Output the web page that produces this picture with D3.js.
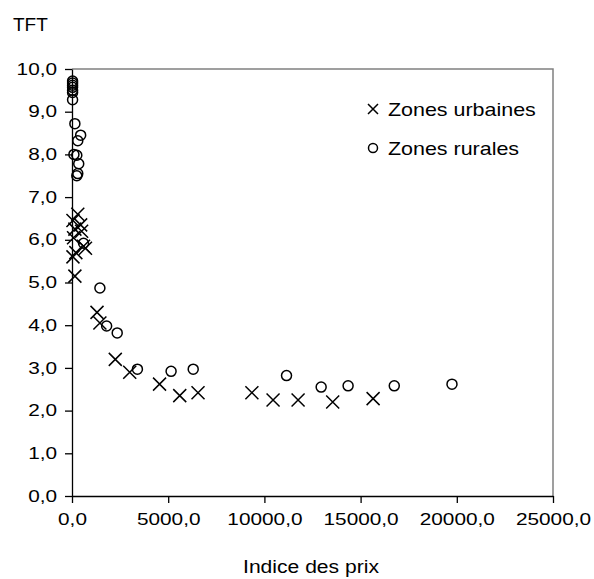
<!DOCTYPE html>
<html>
<head>
<meta charset="utf-8">
<script src="https://cdn.jsdelivr.net/npm/d3@7/dist/d3.min.js"></script>
<style>
  body { margin: 0; background: #fff; }
  svg text { font-family: "Liberation Sans", Arial, sans-serif; fill: #000; }
</style>
</head>
<body>
<div id="chart"></div>
<script>
// Zones urbaines: [indice des prix, TFT]
const urbaines = [
  [50, 6.45], [300, 6.6], [150, 6.25], [450, 6.35], [500, 6.2], [80, 6.05],
  [600, 5.85], [700, 5.8], [50, 5.6], [200, 5.7], [150, 5.15],
  [1300, 4.3], [1450, 4.05], [2250, 3.2], [3000, 2.9], [4550, 2.62],
  [5600, 2.35], [6550, 2.42], [9350, 2.42], [10450, 2.25], [11750, 2.25],
  [13550, 2.2], [15650, 2.28]
];
// Zones rurales
const rurales = [
  [30, 9.72], [30, 9.67], [30, 9.62], [30, 9.57], [30, 9.5], [30, 9.45],
  [30, 9.28], [150, 8.72], [450, 8.45], [300, 8.32], [100, 8.0], [250, 7.98],
  [350, 7.78], [300, 7.55], [250, 7.5], [600, 5.92], [1450, 4.87],
  [1800, 3.98], [2350, 3.82], [3400, 2.97], [5150, 2.92], [6300, 2.97],
  [11150, 2.82], [12950, 2.55], [14350, 2.58], [16750, 2.58], [19750, 2.62]
];
const xTicks = [0, 5000, 10000, 15000, 20000, 25000];
const yTicks = [0, 1, 2, 3, 4, 5, 6, 7, 8, 9, 10];

const width = 594, height = 579;
const mLeft = 72, mRight = 553, mTop = 69, mBottom = 496;
// the original picture is stretched horizontally
const stretch = 1.3;

const svg = d3.select('#chart').append('svg')
  .attr('width', width)
  .attr('height', height);

const x = d3.scaleLinear().domain([0, 25000]).range([mLeft, mRight]);
const y = d3.scaleLinear().domain([0, 10]).range([mBottom, mTop]);
const fmt = v => d3.format('.1f')(v).replace('.', ',');

// plot border (top and right)
svg.append('path')
  .attr('d', `M${mLeft},${mTop}H${mRight}V${mBottom}`)
  .attr('fill', 'none')
  .attr('stroke', '#808080')
  .attr('stroke-width', 1.5);

const xAxis = d3.axisBottom(x).tickValues(xTicks).tickFormat(fmt)
  .tickSizeInner(7).tickSizeOuter(0).tickPadding(10.5);
const yAxis = d3.axisLeft(y).tickValues(yTicks).tickFormat(fmt)
  .tickSizeInner(7).tickSizeOuter(0).tickPadding(4.5);

const gx = svg.append('g')
  .attr('transform', `translate(0,${mBottom})`)
  .call(xAxis);
const gy = svg.append('g')
  .attr('transform', `translate(${mLeft},0)`)
  .call(yAxis);

[gx, gy].forEach(g => {
  g.select('.domain').attr('stroke', '#000').attr('stroke-width', 1.3);
  g.selectAll('.tick line').attr('stroke', '#000').attr('stroke-width', 1.3);
  g.selectAll('.tick text')
    .attr('font-size', '16px')
    .attr('font-family', '"Liberation Sans", Arial, sans-serif')
    .attr('fill', '#000')
    .attr('transform', `scale(${stretch},1)`);
});

// urban points (crosses)
const s = 6.5;
svg.append('g')
  .selectAll('path')
  .data(urbaines)
  .enter()
  .append('path')
    .attr('d', d => `M${x(d[0]) - s},${y(d[1]) - s}L${x(d[0]) + s},${y(d[1]) + s}` +
                    `M${x(d[0]) - s},${y(d[1]) + s}L${x(d[0]) + s},${y(d[1]) - s}`)
    .attr('stroke', '#000')
    .attr('stroke-width', 1.5)
    .attr('fill', 'none');

// rural points (circles)
svg.append('g')
  .selectAll('circle')
  .data(rurales)
  .enter()
  .append('circle')
    .attr('cx', d => x(d[0]))
    .attr('cy', d => y(d[1]))
    .attr('r', 5)
    .attr('stroke', '#000')
    .attr('stroke-width', 1.5)
    .attr('fill', 'none');

// legend
const lg = svg.append('g');
lg.append('path')
  .attr('d', 'M368,104L378,114M368,114L378,104')
  .attr('stroke', '#000')
  .attr('stroke-width', 1.5);
lg.append('text')
  .attr('transform', 'translate(388,116) scale(1.16,1)')
  .attr('font-size', '18.5px')
  .text('Zones urbaines');
lg.append('circle')
  .attr('cx', 373)
  .attr('cy', 148)
  .attr('r', 4.5)
  .attr('stroke', '#000')
  .attr('stroke-width', 1.5)
  .attr('fill', 'none');
lg.append('text')
  .attr('transform', 'translate(388,155) scale(1.16,1)')
  .attr('font-size', '18.5px')
  .text('Zones rurales');

// axis titles
svg.append('text')
  .attr('x', 13)
  .attr('y', 31)
  .attr('font-size', '19px')
  .text('TFT');
svg.append('text')
  .attr('transform', 'translate(311,573) scale(1.14,1)')
  .attr('text-anchor', 'middle')
  .attr('font-size', '18.5px')
  .text('Indice des prix');
</script>
</body>
</html>
